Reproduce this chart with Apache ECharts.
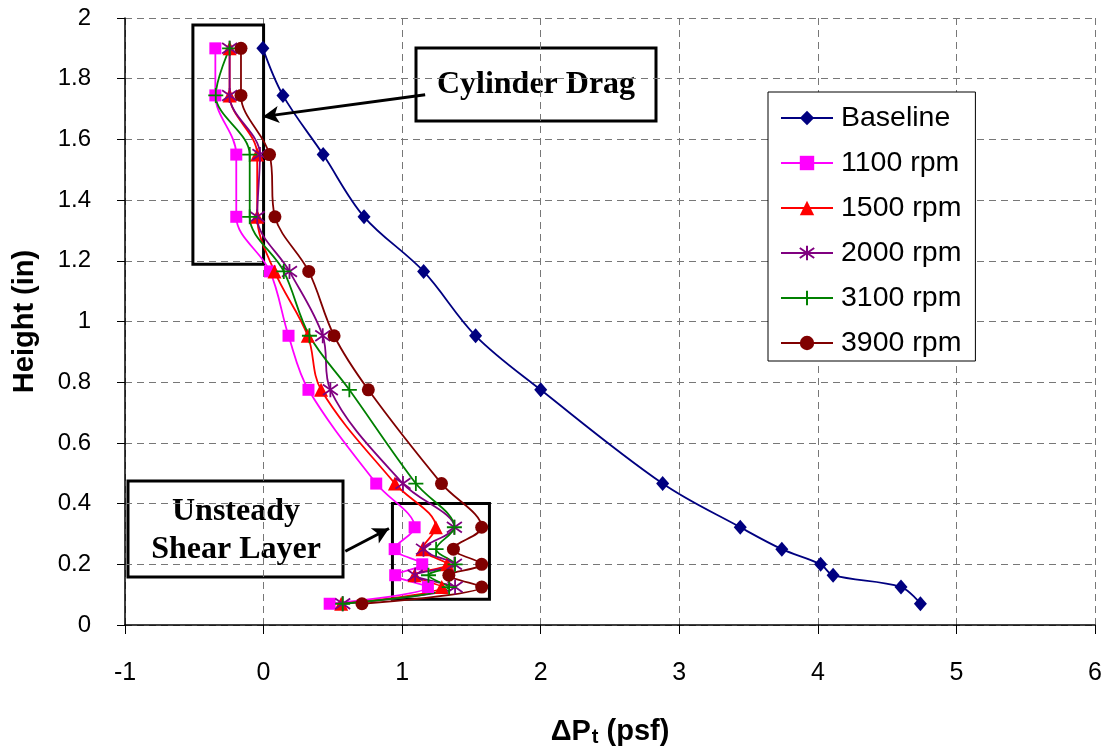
<!DOCTYPE html>
<html>
<head>
<meta charset="utf-8">
<script src="https://cdn.jsdelivr.net/npm/echarts/dist/echarts.min.js"></script>
<style>html,body{margin:0;padding:0;background:#fff}#c{width:1111px;height:752px}</style>
</head>
<body>
<div id="c"></div>
<script>
// Heights (in) shared by all series
const heights = [1.9, 1.745, 1.55, 1.345, 1.165, 0.953, 0.775, 0.466, 0.322, 0.25, 0.2, 0.164, 0.125, 0.07];
// Delta Pt (psf) per series
const baseline = [-0.005, 0.14, 0.43, 0.725, 1.155, 1.53, 2.0, 2.88, 3.44, 3.74, 4.02, 4.11, 4.6, 4.74];
const rpm1100  = [-0.348, -0.348, -0.197, -0.197, 0.046, 0.18, 0.324, 0.813, 1.09, 0.946, 1.145, 0.95, 1.186, 0.477];
const rpm1500  = [-0.245, -0.245, -0.046, -0.046, 0.079, 0.319, 0.415, 0.948, 1.243, 1.147, 1.325, 1.09, 1.286, 0.56];
const rpm2000  = [-0.245, -0.245, -0.026, -0.046, 0.187, 0.427, 0.482, 1.006, 1.377, 1.154, 1.377, 1.094, 1.382, 0.571];
const rpm3100  = [-0.245, -0.345, -0.1, -0.1, 0.146, 0.331, 0.619, 1.099, 1.377, 1.245, 1.382, 1.19, 1.339, 0.571];
const rpm3900  = [-0.163, -0.163, 0.043, 0.082, 0.326, 0.509, 0.756, 1.284, 1.574, 1.37, 1.574, 1.337, 1.574, 0.71];
const seriesNames = ['Baseline', '1100 rpm', '1500 rpm', '2000 rpm', '3100 rpm', '3900 rpm'];

// Annotation regions (data coordinates)
const cylBox = [[-0.51, 1.977], [0, 1.189]];
const shearBox = [[0.93, 0.40], [1.63, 0.085]];
const cylArrow = [[1.166, 1.747], [-0.005, 1.675]];
const shearArrow = [[0.59, 0.243], [0.905, 0.318]];

const ASTER = 'path://M-7,-7L7,7M-7,7L7,-7M0,-10L0,10';
const PLUS = 'path://M0,-10L0,10M-10,0L10,0';

function pairs(xs) { return xs.map((x, i) => [x, heights[i]]); }

function mk(name, xs, color, symbol, size, stroked) {
  return {
    name: name, type: 'line', data: pairs(xs),
    smooth: 0.35,
    symbol: symbol, symbolSize: size,
    showAllSymbol: true,
    lineStyle: { color: color, width: 1.8 },
    itemStyle: stroked ? { color: color, borderColor: color, borderWidth: 1.8 } : { color: color, borderWidth: 0 },
    emphasis: { disabled: true }
  };
}

const series = [
  mk(seriesNames[0], baseline, '#000080', 'diamond', [13, 15], false),
  mk(seriesNames[1], rpm1100, '#FF00FF', 'rect', 12, false),
  mk(seriesNames[2], rpm1500, '#FF0000', 'triangle', 14, false),
  mk(seriesNames[3], rpm2000, '#800080', ASTER, 15, true),
  mk(seriesNames[4], rpm3100, '#008000', PLUS, 15, true),
  mk(seriesNames[5], rpm3900, '#800000', 'circle', 13, false)
];

series[0].markArea = {
  silent: true,
  itemStyle: { color: 'rgba(0,0,0,0)', borderColor: '#000', borderWidth: 3 },
  data: [
    [{ coord: cylBox[0] }, { coord: cylBox[1] }],
    [{ coord: shearBox[0] }, { coord: shearBox[1] }]
  ]
};
series[0].markLine = {
  silent: true,
  symbol: ['none', 'arrow'],
  symbolSize: [13, 16],
  label: { show: false },
  lineStyle: { color: '#000', width: 3, type: 'solid' },
  data: [
    [{ coord: cylArrow[0] }, { coord: cylArrow[1] }],
    [{ coord: shearArrow[0] }, { coord: shearArrow[1] }]
  ]
};

const chart = echarts.init(document.getElementById('c'));
chart.setOption({
  animation: false,
  backgroundColor: '#fff',
  grid: { left: 125, right: 16, top: 18, bottom: 125, containLabel: false },
  xAxis: {
    type: 'value', min: -1, max: 6, interval: 1,
    name: '{a|ΔP}{s|t}{a| (psf)}',
    nameLocation: 'middle', nameGap: 92,
    nameTextStyle: {
      rich: {
        a: { fontSize: 29, fontWeight: 'bold', fontFamily: 'Liberation Sans', color: '#000' },
        s: { fontSize: 20, fontWeight: 'bold', fontFamily: 'Liberation Sans', color: '#000', padding: [10, 0, 0, 1] }
      }
    },
    axisLine: { show: true, onZero: false, lineStyle: { color: '#000', width: 1.5 } },
    axisTick: { show: true, length: 9, lineStyle: { color: '#000', width: 1 } },
    axisLabel: { fontSize: 25, color: '#000', fontFamily: 'Liberation Sans', margin: 36 },
    splitLine: { show: true, lineStyle: { color: '#777', width: 1, type: [7, 5] } }
  },
  yAxis: {
    type: 'value', min: 0, max: 2, interval: 0.2,
    name: 'Height (in)',
    nameLocation: 'middle', nameGap: 86, nameRotate: 90,
    nameTextStyle: { fontSize: 29, fontWeight: 'bold', fontFamily: 'Liberation Sans', color: '#000' },
    axisLine: { show: true, onZero: false, lineStyle: { color: '#000', width: 1.5 } },
    axisTick: { show: true, length: 8, lineStyle: { color: '#000', width: 1 } },
    axisLabel: { fontSize: 24, color: '#000', fontFamily: 'Liberation Sans', margin: 34 },
    splitLine: { show: true, lineStyle: { color: '#777', width: 1, type: [7, 5] } }
  },
  legend: {
    data: seriesNames,
    orient: 'vertical', left: 768, top: 92,
    backgroundColor: '#fff', borderColor: '#000', borderWidth: 1,
    padding: [11, 14, 3, 12],
    itemWidth: 52, itemHeight: 18, itemGap: 15,
    selectedMode: false,
    textStyle: { fontSize: 28.5, fontFamily: 'Liberation Sans', color: '#000', lineHeight: 30, padding: [0, 0, 0, 3] }
  },
  graphic: [
    {
      type: 'group', z: 100,
      children: [
        { type: 'rect', shape: { x: 416, y: 48, width: 240, height: 73 }, style: { fill: '#fff', stroke: '#000', lineWidth: 3 } },
        { type: 'text', x: 536, y: 85, style: { text: 'Cylinder Drag', font: 'bold 32px "Liberation Serif"', fill: '#000', align: 'center', verticalAlign: 'middle', textAlign: 'center', textVerticalAlign: 'middle' } }
      ]
    },
    {
      type: 'group', z: 100,
      children: [
        { type: 'rect', shape: { x: 128, y: 481, width: 215, height: 96 }, style: { fill: '#fff', stroke: '#000', lineWidth: 3 } },
        { type: 'text', x: 236, y: 531, style: { text: 'Unsteady\nShear Layer', font: 'bold 32px "Liberation Serif"', lineHeight: 38, fill: '#000', align: 'center', verticalAlign: 'middle', textAlign: 'center', textVerticalAlign: 'middle' } }
      ]
    }
  ],
  series: series
});
</script>
</body>
</html>
